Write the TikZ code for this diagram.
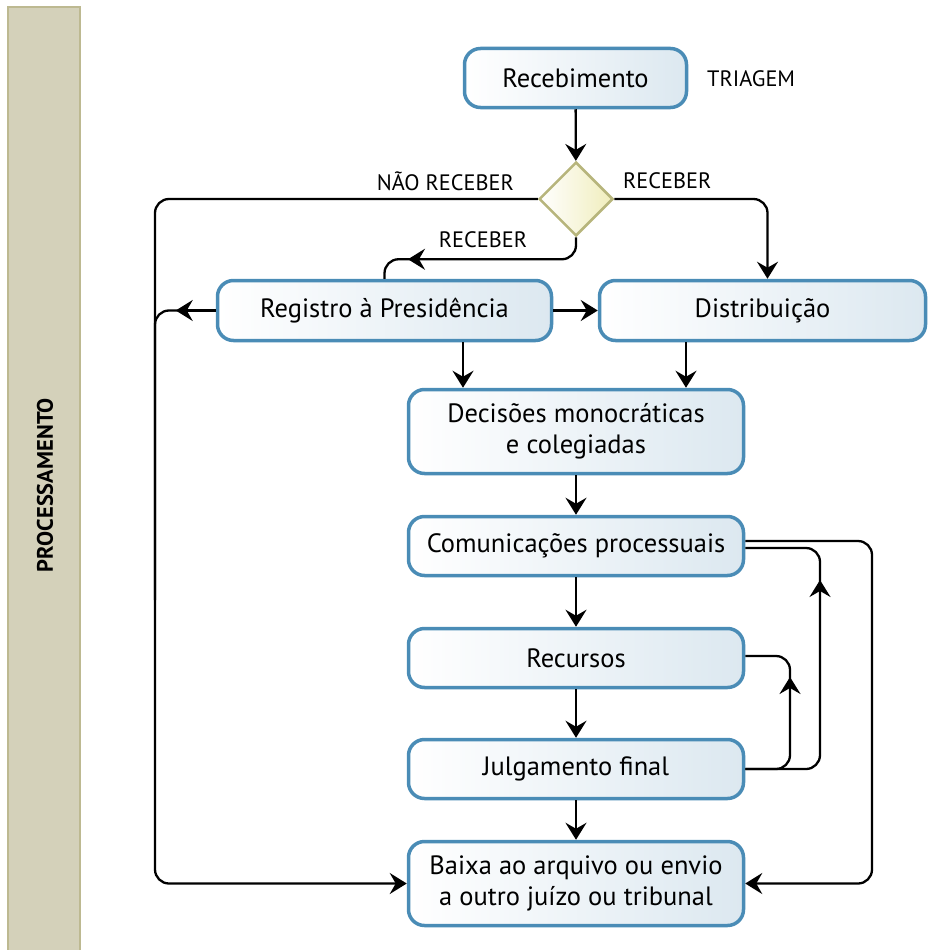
\documentclass[tikz,border=0pt]{standalone}
\usepackage{fontspec}
\setmainfont{PT Sans}
\usetikzlibrary{arrows.meta,shapes.geometric,calc}
\definecolor{boxedge}{HTML}{4A8CB6}
\definecolor{boxright}{HTML}{DCE8F0}
\definecolor{diaedge}{HTML}{B7B57C}
\definecolor{diaright}{HTML}{F0EDBC}
\definecolor{lanefill}{HTML}{D4D1BA}
\definecolor{laneedge}{HTML}{BDB991}
\begin{document}
\begin{tikzpicture}[x=1pt,y=-1pt,
 box/.style={draw=boxedge, line width=3.5pt, rounded corners=16pt, left color=white, right color=boxright, align=center, font=\fontsize{26.5}{31}\selectfont, inner sep=0pt},
 dia/.style={diamond, aspect=1, draw=diaedge, line width=2.5pt, left color=white, right color=diaright, minimum width=74pt, minimum height=74pt, inner sep=0pt},
 lbl/.style={font=\fontsize{22.3}{26}\selectfont, inner sep=0pt},
 line/.style={line width=2.3pt, black},
 arr/.style={line, -{Stealth[length=17pt,width=21pt,inset=6pt]}}]
\useasboundingbox (0,0) rectangle (928,950);
% lane
\draw[fill=lanefill, draw=laneedge, line width=2pt] (8,7) rectangle (80,956);
\node[rotate=90, inner sep=0pt] (lane) at (45,485) {\resizebox{174pt}{16pt}{\bfseries PROCESSAMENTO}};
% nodes
\node[box, minimum width=222pt, minimum height=59pt] (rec) at (575.5,78) {Recebimento};
\node[lbl, anchor=west] (tri) at (707,79) {TRIAGEM};
\node[dia] (dia) at (576,199) {};
\node[box, minimum width=334pt, minimum height=60pt] (reg) at (384.5,310.5) {Registro à Presidência};
\node[box, minimum width=326pt, minimum height=60pt] (dist) at (762.5,310.5) {Distribuição};
\node[box, minimum width=335pt, minimum height=84pt] (dec) at (576,431.5) {Decisões monocráticas\\e colegiadas};
\node[box, minimum width=335pt, minimum height=59pt] (com) at (576,546) {Comunicações processuais};
\node[box, minimum width=335pt, minimum height=59pt] (recu) at (576,658) {Recursos};
\node[box, minimum width=335pt, minimum height=59pt] (jul) at (576,769) {Julgamento final};
\node[box, minimum width=335pt, minimum height=84pt] (baixa) at (576,883.5) {Baixa ao arquivo ou envio\\a outro juízo ou tribunal};
% labels
\node[lbl, anchor=east] (nao) at (514,181) {NÃO RECEBER};
\node[lbl, anchor=west] (recR) at (623,181) {RECEBER};
\node[lbl] (recL) at (483,240) {RECEBER};
% connectors
\draw[arr] (rec) -- (dia);
\draw[arr, rounded corners=14pt] (dia.east) -| ([xshift=5pt]dist.north);
\coordinate (lx) at (155,600);
\draw[arr, rounded corners=14pt] (dia.west) -| (lx) |- (baixa.west);
\draw[line, rounded corners=14pt] (reg.west) -| (lx);
\draw[arr] (reg.west) -- ++(-40,0);
\coordinate (rt) at ($(dia.south)+(0,22)$);
\draw[line, rounded corners=14pt] (dia.south) |- (reg.north |- rt) -- (reg.north);
\draw[arr] ($(rt)+(-130,0)$) -- ++(-38,0);
\draw[arr] (reg) -- (dist);
\draw[arr] ([xshift=-113pt]dec.north |- reg.south) -- ([xshift=-113pt]dec.north);
\draw[arr] ([xshift=110pt]dec.north |- dist.south) -- ([xshift=110pt]dec.north);
\draw[arr] (dec) -- (com);
\draw[arr] (com) -- (recu);
\draw[arr] (recu) -- (jul);
\draw[arr] (jul) -- (baixa);
\coordinate (rx) at (872,700);
\draw[arr, rounded corners=14pt] ([yshift=5pt]com.east) -| (rx) |- (baixa.east);
\coordinate (mx) at (820,700);
\draw[line, rounded corners=14pt] (jul.east) -| (mx) |- ([yshift=-2pt]com.east);
\coordinate (ma) at (820,620);
\draw[arr] (ma) -- ++(0,-40);
\coordinate (nx) at (790,720);
\draw[line, rounded corners=14pt] (jul.east) -| (nx) |- ([yshift=2pt]recu.east);
\draw[arr] (nx) -- ++(0,-43);
\end{tikzpicture}
\end{document}
